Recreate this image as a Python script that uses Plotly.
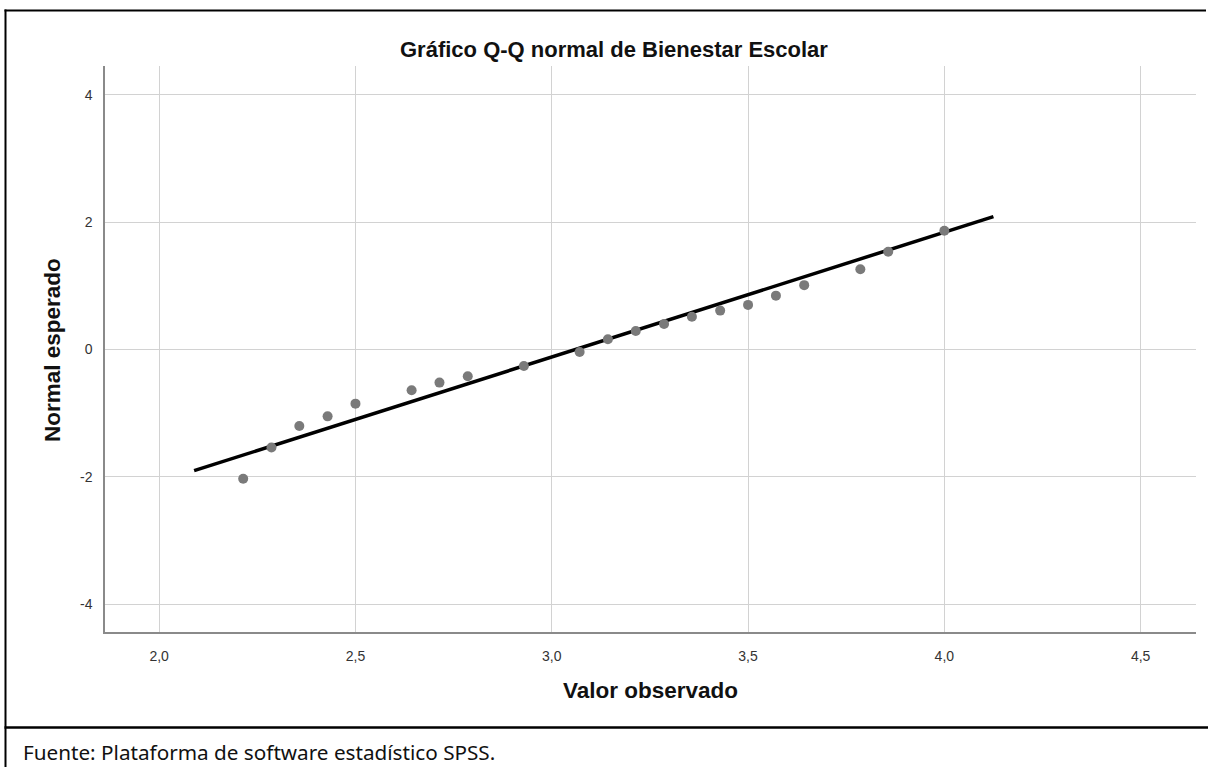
import plotly.graph_objects as go

# ---- data ----
observed = [2.214, 2.286, 2.357, 2.429, 2.500, 2.643, 2.714, 2.786, 2.929, 3.071,
            3.143, 3.214, 3.286, 3.357, 3.429, 3.500, 3.571, 3.643, 3.786, 3.857, 4.000]
expected = [-2.03, -1.54, -1.20, -1.05, -0.85, -0.64, -0.52, -0.42, -0.26, -0.04,
            0.16, 0.29, 0.40, 0.515, 0.61, 0.70, 0.845, 1.01, 1.26, 1.535, 1.865]
line_x = [2.089, 4.125]
line_y = [-1.903, 2.085]

x_tick_vals = [2.0, 2.5, 3.0, 3.5, 4.0, 4.5]
x_tick_text = ["2,0", "2,5", "3,0", "3,5", "4,0", "4,5"]
y_tick_vals = [-4, -2, 0, 2, 4]
y_tick_text = ["-4", "-2", "0", "2", "4"]

title_text = "Gráfico Q-Q normal de Bienestar Escolar"
x_title = "Valor observado"
y_title = "Normal esperado"
footer_text = "Fuente: Plataforma de software estadístico SPSS."

# ---- layout geometry (pixels) ----
W, H = 1208, 767
L, R, T, B = 105, 1196, 66, 632

def px(x):
    return (x - L) / (R - L)

def py(y):
    return (B - y) / (B - T)

fig = go.Figure()
fig.add_trace(go.Scatter(x=line_x, y=line_y, mode="lines",
                         line=dict(color="black", width=3.5), hoverinfo="skip"))
fig.add_trace(go.Scatter(x=observed, y=expected, mode="markers",
                         marker=dict(color="#7a7a7a", size=10, line=dict(width=0))))

axis_common = dict(showgrid=True, gridcolor="#d2d2d2", gridwidth=1.2,
                   zeroline=False, showline=True, linecolor="#8a8a8a", linewidth=1.5,
                   ticks="", tickfont=dict(family="Liberation Sans, Arial", size=14, color="#333333"))

fig.update_xaxes(range=[1.862, 4.641], tickvals=x_tick_vals, ticktext=x_tick_text,
                 ticklabelstandoff=10, **axis_common)
fig.update_yaxes(range=[-4.435, 4.45], tickvals=y_tick_vals, ticktext=y_tick_text,
                 ticklabelstandoff=8, **axis_common)

annotations = [
    dict(text="<b>" + title_text + "</b>", x=px(614), y=py(49), xref="paper", yref="paper",
         xanchor="center", yanchor="middle", showarrow=False,
         font=dict(family="Liberation Sans, Arial", size=22, color="#111")),
    dict(text="<b>" + x_title + "</b>", x=px(650), y=py(690), xref="paper", yref="paper",
         xanchor="center", yanchor="middle", showarrow=False,
         font=dict(family="Liberation Sans, Arial", size=22.5, color="#111")),
    dict(text="<b>" + y_title + "</b>", x=px(52), y=py(350), xref="paper", yref="paper",
         xanchor="center", yanchor="middle", showarrow=False, textangle=-90,
         font=dict(family="Liberation Sans, Arial", size=22.5, color="#111")),
    dict(text=footer_text, x=px(21), y=py(752), xref="paper", yref="paper",
         xanchor="left", yanchor="middle", showarrow=False,
         font=dict(family="Noto Sans", size=20.7, color="#111")),
]

shapes = [
    dict(type="line", xref="paper", yref="paper", x0=px(4.5), x1=px(W - 2), y0=py(10.5), y1=py(10.5),
         line=dict(color="black", width=2)),
    dict(type="line", xref="paper", yref="paper", x0=px(5.5), x1=px(5.5), y0=py(9.5), y1=py(H),
         line=dict(color="black", width=2)),
    dict(type="line", xref="paper", yref="paper", x0=px(4.5), x1=px(W), y0=py(727.5), y1=py(727.5),
         line=dict(color="black", width=2.6)),
]

fig.update_layout(width=W, height=H, margin=dict(l=L, r=W - R, t=T, b=H - B),
                  paper_bgcolor="white", plot_bgcolor="white", showlegend=False,
                  separators=",.", annotations=annotations, shapes=shapes)

fig.write_html("out.html")
